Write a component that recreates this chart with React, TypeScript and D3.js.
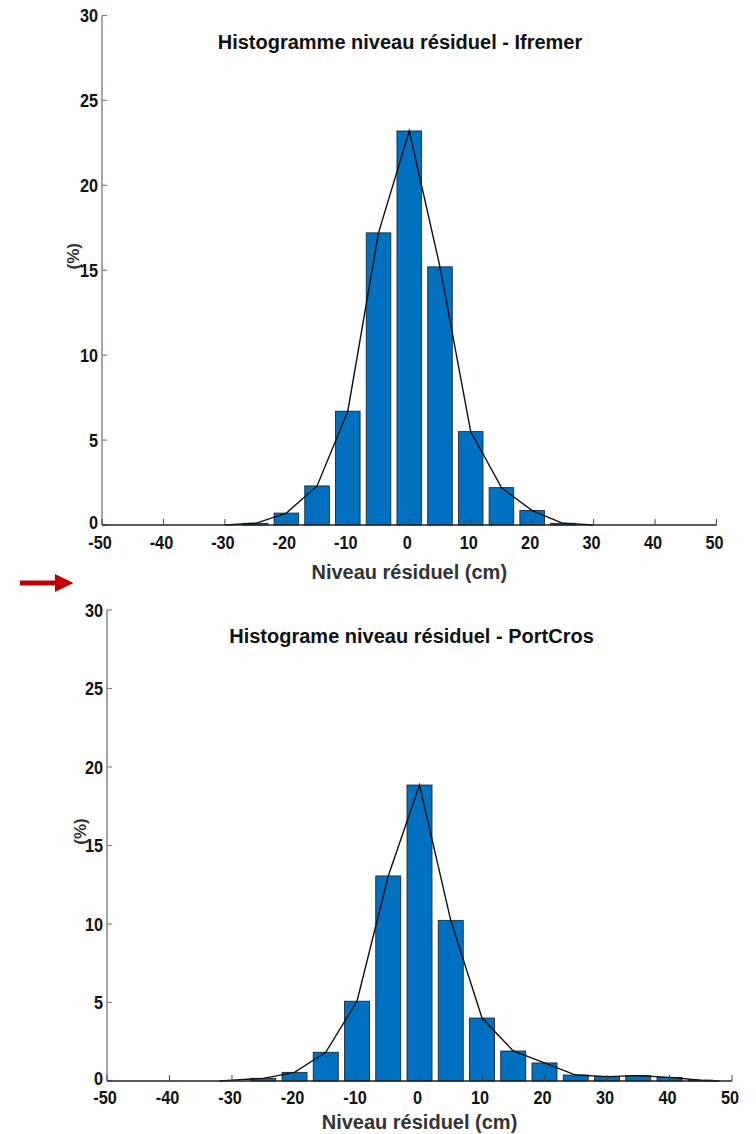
import React from "react";
import * as d3 from "d3";

// Residual level histograms (percent of samples per 5 cm bin)
const ifremerBins = [-25, -20, -15, -10, -5, 0, 5, 10, 15, 20, 25];
const ifremerPct = [0.1, 0.7, 2.3, 6.7, 17.2, 23.2, 15.2, 5.5, 2.2, 0.85, 0.1];
const ifremerCurveX = [-30, -25, -20, -15, -10, -5, 0, 5, 10, 15, 20, 25, 30];
const ifremerCurveY = [0, 0.1, 0.7, 2.3, 6.7, 17.2, 23.2, 15.2, 5.5, 2.2, 0.85, 0.1, 0];

const portcrosBins = [-25, -20, -15, -10, -5, 0, 5, 10, 15, 20, 25, 30, 35, 40, 45];
const portcrosPct = [0.17, 0.55, 1.83, 5.08, 13.06, 18.85, 10.23, 4.01, 1.91, 1.15, 0.38, 0.28, 0.34, 0.23, 0.05];
const portcrosCurveX = [-32, -25, -20, -15, -10, -5, 0, 5, 10, 15, 20, 25, 30, 35, 40, 45, 48];
const portcrosCurveY = [0, 0.17, 0.55, 1.83, 5.08, 13.06, 18.85, 10.23, 4.01, 1.91, 1.15, 0.38, 0.28, 0.34, 0.23, 0.05, 0];

const xTicks = [-50, -40, -30, -20, -10, 0, 10, 20, 30, 40, 50];
const yTicks = [0, 5, 10, 15, 20, 25, 30];
const xDomain: [number, number] = [-50, 50];
const yDomain: [number, number] = [0, 30];
const binWidth = 5;

const xLabel = "Niveau résiduel (cm)";
const yLabel = "(%)";

const FONT = "'Liberation Sans', Arial, sans-serif";
const BAR_FILL = "#0070c0";

type PanelProps = {
  title: string;
  bins: number[];
  pct: number[];
  curveX: number[];
  curveY: number[];
  left: number;
  right: number;
  top: number;
  bottom: number;
  titleX: number;
  titleY: number;
  tickLabelDx: number;
  yLabelX: number;
  xLabelDy: number;
};

// condensed bold numerals for the axis tick labels
function TickText(props: { x: number; y: number; anchor: string; children: React.ReactNode }) {
  return (
    <g transform={`translate(${props.x},${props.y}) scale(0.88,1)`}>
      <text
        dy="0.36em"
        textAnchor={props.anchor}
        fontFamily={FONT}
        fontWeight="bold"
        fontSize={18.5}
        fill="#111"
      >
        {props.children}
      </text>
    </g>
  );
}

function Panel(p: PanelProps) {
  const x = d3.scaleLinear().domain(xDomain).range([p.left, p.right]);
  const y = d3.scaleLinear().domain(yDomain).range([p.bottom, p.top]);
  const barW = (x(binWidth) - x(0)) * 0.8;
  const line = d3
    .line<number>()
    .x((_, i) => x(p.curveX[i]))
    .y((d) => y(d));
  const path = line(p.curveY) || "";

  return (
    <g>
      <text
        x={p.titleX}
        y={p.titleY}
        textAnchor="middle"
        fontFamily={FONT}
        fontWeight="bold"
        fontSize={20}
        fill="#111"
      >
        {p.title}
      </text>

      {p.bins.map((b, i) => (
        <rect
          key={b}
          x={x(b) - barW / 2}
          y={y(p.pct[i])}
          width={barW}
          height={y(0) - y(p.pct[i])}
          fill={BAR_FILL}
          stroke="#1c2a38"
          strokeWidth={0.9}
        />
      ))}

      <path d={path} fill="none" stroke="#111" strokeWidth={1.4} />

      {/* y axis */}
      <line x1={p.left} x2={p.left} y1={p.top} y2={p.bottom} stroke="#808080" strokeWidth={1.4} />
      {yTicks.map((t) => (
        <g key={t}>
          <line x1={p.left} x2={p.left + 5} y1={y(t)} y2={y(t)} stroke="#808080" strokeWidth={1.2} />
          <TickText x={p.left - 4} y={y(t) - (t === 0 ? 3 : 0)} anchor="end">
            {t}
          </TickText>
        </g>
      ))}

      {/* x axis */}
      <line x1={p.left} x2={p.right} y1={p.bottom} y2={p.bottom} stroke="#222" strokeWidth={1.4} />
      {xTicks.map((t) => (
        <g key={t}>
          <line x1={x(t)} x2={x(t)} y1={p.bottom} y2={p.bottom - 6} stroke="#444" strokeWidth={1} />
          <TickText x={x(t) - 2} y={p.bottom + p.tickLabelDx} anchor="middle">
            {t}
          </TickText>
        </g>
      ))}

      <text
        x={x(0)}
        y={p.bottom + p.xLabelDy}
        dy="0.36em"
        textAnchor="middle"
        fontFamily={FONT}
        fontWeight="bold"
        fontSize={20}
        fill="#333"
      >
        {xLabel}
      </text>

      <text
        transform={`translate(${p.yLabelX},${y(15) - 14}) rotate(-90)`}
        textAnchor="middle"
        dy="0.36em"
        fontFamily={FONT}
        fontWeight="bold"
        fontSize={17}
        fill="#333"
      >
        {yLabel}
      </text>
    </g>
  );
}

export default function App() {
  return (
    <svg
      width={756}
      height={1134}
      viewBox="0 0 756 1134"
      style={{ position: "absolute", left: 0, top: 0, background: "#fff" }}
    >
      <rect width={756} height={1134} fill="#fff" />
      <Panel
        title="Histogramme niveau résiduel - Ifremer"
        bins={ifremerBins}
        pct={ifremerPct}
        curveX={ifremerCurveX}
        curveY={ifremerCurveY}
        left={102}
        right={716.5}
        top={15.5}
        bottom={525}
        titleX={400}
        titleY={49}
        tickLabelDx={17}
        yLabelX={73}
        xLabelDy={47}
      />
      <Panel
        title="Histograme niveau résiduel - PortCros"
        bins={portcrosBins}
        pct={portcrosPct}
        curveX={portcrosCurveX}
        curveY={portcrosCurveY}
        left={107}
        right={732}
        top={610}
        bottom={1081}
        titleX={411.5}
        titleY={643}
        tickLabelDx={16}
        yLabelX={80}
        xLabelDy={41}
      />
      {/* red pointer arrow between panels */}
      <path d="M20,580.5 L55,580.5 L55,574 L73.5,583 L55,592 L55,585.5 L20,585.5 Z" fill="#c00000" />
    </svg>
  );
}
